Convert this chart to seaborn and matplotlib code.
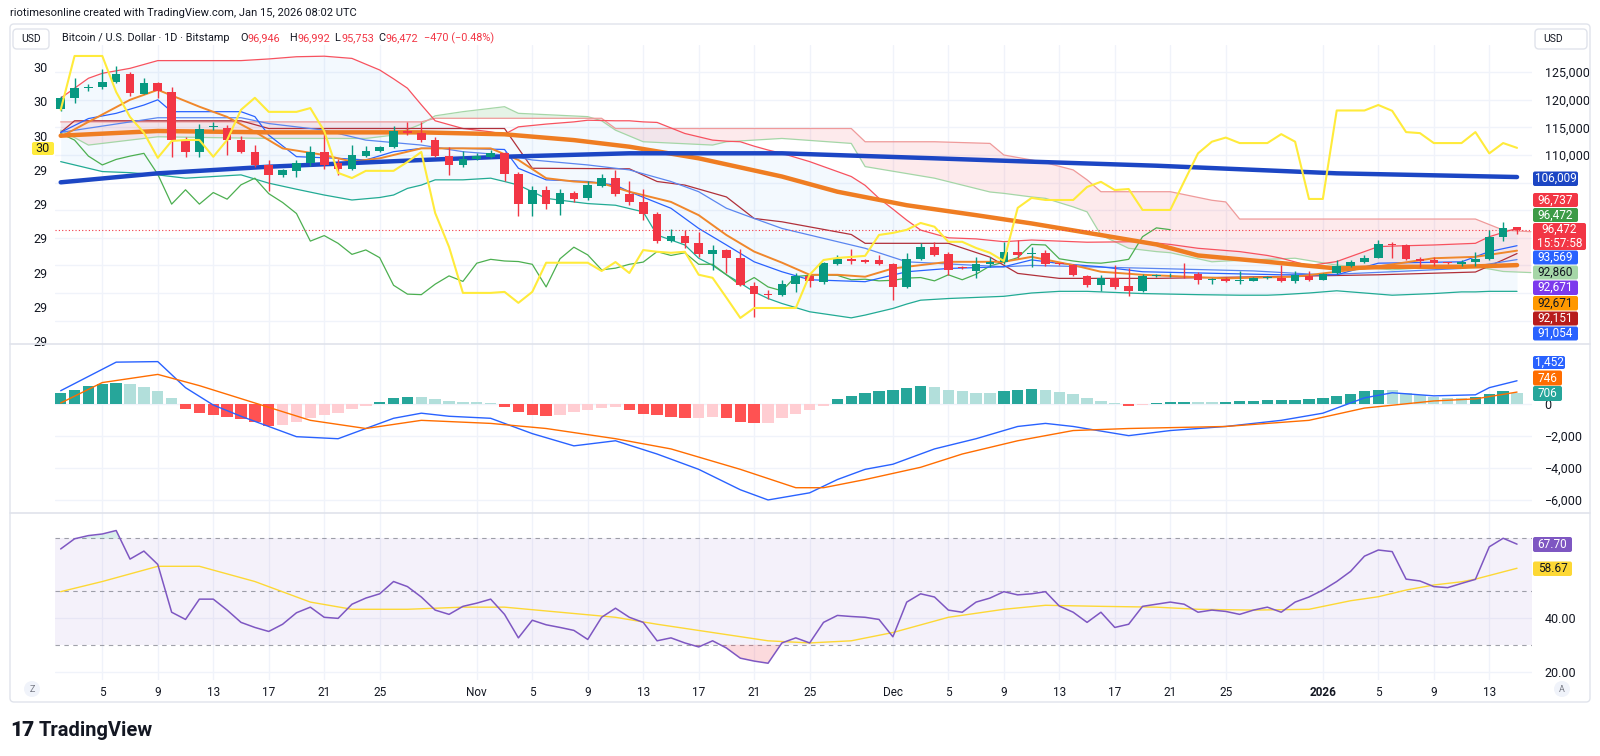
import numpy as np
import pandas as pd
import matplotlib
matplotlib.use("Agg")
import matplotlib.pyplot as plt
from matplotlib.patches import FancyBboxPatch, Circle
from matplotlib.lines import Line2D
from matplotlib.transforms import Affine2D
from matplotlib.ticker import FuncFormatter
import seaborn as sns

# ---------------- data ----------------
dates = pd.date_range("2025-10-02", "2026-01-15", freq="D")  # daily bars

open_ = [118400, 120400, 122200, 122300, 123300, 124600, 121100, 123100, 121500, 112700,
         110600, 115000, 114900, 112800, 110600, 108100, 106300, 107100, 108500, 110500,
         108500, 107400, 109900, 110700, 111400, 114300, 113900, 112700, 109800, 108200,
         109300, 109700, 110300, 106500, 101100, 103700, 101100, 103200, 102200, 104400,
         105800, 102900, 101400, 99400, 94400, 95400, 94000, 92000, 92800, 91400,
         86300, 84800, 84600, 86600, 88100, 87000, 90300, 91100, 90900, 90900,
         90200, 86100, 91200, 93300, 92000, 89700, 88900, 90200, 90600, 92500,
         92000, 92300, 90300, 90100, 88100, 86400, 87800, 86300, 85400, 88000,
         88200, 88300, 88400, 87400, 87500, 87200, 87200, 87700, 87700, 87200,
         88100, 87400, 88600, 89900, 90600, 91400, 93800, 93700, 91200, 90900,
         90450, 90200, 90700, 91100, 95200, 96946]
high = [120600, 123900, 122800, 125600, 126100, 125000, 124000, 123300, 122400, 113300,
        115600, 115900, 115400, 113400, 111800, 109100, 107500, 109100, 111600, 114000,
        109300, 111800, 111600, 111700, 115300, 116000, 115900, 113200, 111500, 110700,
        110300, 110900, 110500, 107000, 104300, 104400, 103900, 103500, 105200, 106500,
        107300, 105200, 103900, 99600, 96600, 96500, 96000, 93700, 93000, 93000,
        87000, 85500, 87400, 88600, 88500, 90700, 91900, 93000, 91200, 91800,
        90400, 92200, 94000, 94200, 92400, 89900, 91600, 91600, 94300, 94600,
        93400, 92700, 90500, 90300, 88300, 88300, 90100, 89500, 88500, 88500,
        88600, 90400, 88800, 87800, 87900, 88900, 87900, 88000, 90100, 89000,
        89000, 88600, 90900, 90900, 91800, 94600, 94200, 93900, 91500, 91600,
        90600, 91000, 92400, 96400, 97900, 96992]
low = [118000, 119400, 121600, 122000, 123000, 120600, 121000, 120300, 109700, 109700,
       109700, 114500, 110000, 110300, 107800, 103500, 106100, 106000, 108000, 107500,
       106300, 107200, 109600, 110500, 111300, 113600, 112400, 109600, 106400, 107800,
       109100, 109500, 105300, 99000, 99000, 100300, 99100, 101500, 101900, 104200,
       102600, 100900, 98200, 94000, 94200, 93100, 91500, 89200, 88600, 86200,
       80700, 84000, 84400, 85200, 86000, 86700, 90000, 90200, 90500, 90000,
       83700, 85900, 91000, 91700, 88300, 89300, 87700, 89800, 90300, 91400,
       89800, 89900, 90000, 88100, 86100, 85300, 85800, 84500, 85200, 87900,
       87900, 87700, 86600, 86600, 87000, 86600, 87100, 87500, 87000, 86900,
       87200, 87300, 88400, 89700, 90500, 91300, 91300, 91000, 89700, 89900,
       90300, 89900, 89900, 90900, 94500, 95753]
close = [120300, 122100, 122400, 123300, 124600, 121200, 123100, 121600, 112700, 110600,
         114800, 115200, 112800, 110600, 108100, 106300, 107200, 108500, 110500, 108200,
         107500, 110000, 110800, 111400, 114300, 113900, 112700, 109800, 108200, 109200,
         109800, 110300, 106500, 101100, 103700, 101100, 103200, 102000, 104600, 105800,
         103000, 101400, 99400, 94400, 95400, 94000, 92000, 92800, 91400, 86400,
         84800, 84700, 86600, 88100, 87100, 90400, 91100, 90800, 90700, 90200,
         86100, 91200, 93300, 91900, 89200, 89500, 90200, 90600, 92500, 91800,
         92300, 90200, 90200, 88300, 86400, 87800, 86100, 85400, 88000, 88200,
         88300, 88200, 87400, 87500, 87200, 87300, 87700, 87800, 87200, 88300,
         87400, 88400, 89900, 90600, 91400, 93800, 93700, 91200, 90800, 90500,
         90400, 90700, 91100, 95200, 96800, 96472]

# Bollinger bands (upper / lower)
bb_idx = [0, 2, 3, 5, 7, 9, 13, 15, 17, 19, 21, 23, 24, 25, 26, 27, 29, 31, 32, 33,
          35, 37, 38, 40, 41, 42, 43, 45, 46, 47, 48, 49, 50, 51, 52, 54, 57, 58, 59, 60,
          61, 62, 64, 66, 68, 70, 72, 74, 78, 80, 82, 85, 87, 88, 90, 92, 95, 96, 99, 101,
          102, 103, 105]
bb_upper = [120300, 123900, 124800, 125700, 127100, 127100, 127100, 127400, 127800, 127900,
            127500, 125400, 123800, 122100, 119100, 116200, 114800, 114200, 113750, 115100,
            115600, 116000, 116300, 116200, 116200, 116000, 115900, 113900, 113300, 112700,
            112500, 112400, 111600, 110900, 110300, 108800, 106100, 104500, 102150, 100200,
            98200, 96400, 95000, 94800, 94300, 94600, 94400, 94200, 94300, 93800,
            93100, 92500, 91800, 91300, 89950, 90700, 93400, 93500, 93700, 93900,
            94000, 95200, 96737]
bb_lower = [108800, 107600, 107000, 106800, 106400, 105800, 106400, 104900, 103800, 102750,
            101850, 102300, 102750, 103950, 104550, 105500, 105500, 105800, 105200, 104550,
            102150, 101500, 101200, 100900, 100300, 99700, 95500, 93700, 91300, 90000,
            88300, 86800, 85200, 84000, 83100, 81600, 80500, 81000, 81600, 82200,
            83000, 83700, 84000, 84200, 84400, 85000, 85300, 85300, 84900, 84800,
            84700, 84600, 84600, 84700, 85000, 85400, 84800, 84600, 84900, 85200,
            85200, 85300, 85300]

# Ichimoku cloud (leading spans A / B)
cloud_idx = [0, 2, 7, 15, 22, 24, 26, 27, 29, 32, 33, 38, 39, 40, 42, 47, 48, 52, 57, 58,
             63, 67, 68, 70, 71, 73, 74, 75, 77, 79, 80, 83, 84, 85, 89, 92, 96, 101, 102, 104,
             106]
span_a = [114500, 111800, 113300, 113000, 113000, 113600, 115600, 117100, 117850, 118750,
          117550, 116950, 116200, 114500, 112400, 111800, 112400, 113000, 112100, 107900,
          105800, 103300, 103050, 102400, 102150, 100600, 99700, 95500, 93100, 92500,
          92300, 90650, 90800, 90900, 91300, 90050, 89200, 90050, 89800, 88900,
          88700]
span_b = [116000, 116000, 116000, 116000, 116000, 116000, 116000, 116650, 116650, 116650,
          116650, 116650, 116650, 114800, 114800, 114800, 114800, 114800, 114800, 112400,
          112400, 112100, 110000, 109100, 108600, 107300, 105500, 103350, 103350, 103350,
          103350, 101800, 101500, 98400, 98400, 98400, 98400, 98400, 98400, 96400,
          96100]

# conversion line (blue), second blue line, base line (maroon)
conv_idx = [0, 2, 4, 6, 7, 8, 13, 14, 15, 17, 20, 22, 24, 26, 29, 32, 33, 35, 38, 40,
            41, 44, 46, 48, 50, 52, 54, 58, 61, 64, 68, 70, 72, 75, 78, 88, 92, 95, 101, 103,
            105]
conv_val = [114100, 116600, 117550, 119050, 120000, 117850, 117850, 116950, 113600, 109700,
            109400, 109100, 110600, 111200, 111200, 111000, 107600, 105500, 105200, 104550,
            103350, 100350, 96700, 93700, 90650, 88850, 87400, 87050, 88850, 89450,
            89750, 91000, 90350, 89750, 88850, 88300, 88300, 90400, 90650, 92500,
            93569]
blue2_idx = [0, 7, 13, 15, 19, 22, 26, 29, 32, 34, 38, 41, 44, 46, 48, 50, 52, 58, 61, 68,
             70, 78, 86, 91, 96, 101, 105]
blue2_val = [114100, 116750, 116750, 115700, 114500, 112700, 111800, 110600, 110000, 109100,
             108200, 107300, 105200, 103350, 100350, 98500, 96700, 93100, 90650, 89750,
             90000, 89500, 89000, 88300, 88850, 89450, 91054]
base_idx = [0, 1, 13, 15, 32, 34, 41, 43, 45, 48, 50, 52, 57, 58, 64, 67, 69, 72, 79, 88,
            95, 102, 104, 105]
base_val = [114100, 116200, 116200, 114800, 114800, 107600, 107500, 105200, 104550, 102400,
            98500, 97900, 95600, 94000, 94000, 91500, 88550, 87650, 87650, 88000,
            88300, 88800, 91000, 92151]

# moving averages
ma200_idx = [0, 7, 15, 26, 32, 41, 52, 63, 70, 79, 92, 105]
ma200_val = [105050, 106680, 107880, 109090, 109690, 110310, 110310, 109400, 108790, 108060,
             106680, 106009]
ma50_idx = [0, 7, 15, 26, 32, 37, 41, 46, 52, 56, 61, 66, 70, 75, 79, 82, 87, 92, 96, 101, 105]
ma50_val = [113500, 114350, 114100, 114100, 113750, 112700, 111500, 109400, 106100, 103350,
            100900, 99100, 97600, 95500, 93800, 91800, 90650, 89450, 89750, 89750, 90050]
ema_idx = [0, 2, 5, 7, 10, 12, 14, 16, 19, 21, 23, 26, 29, 31, 33, 35, 37, 39, 41, 44,
           46, 48, 50, 52, 54, 56, 58, 60, 64, 68, 70, 73, 75, 78, 84, 89, 94, 99, 102, 105]
ema_val = [113300, 116000, 120000, 121800, 118750, 116900, 114200, 111200, 110000, 108800,
           109400, 111200, 111200, 111200, 109100, 105800, 105200, 104900, 103350, 101500,
           99100, 95500, 92500, 90500, 88300, 88300, 87950, 89450, 90650, 90650,
           91550, 90050, 88850, 88300, 87650, 87950, 89450, 91300, 91550, 92671]

# yellow overlay on the left scale
yellow = [30.075, 30.232, 30.232, 30.232, 30.127, 30.054, 30.008, 29.935, 29.984, 29.987,
          29.987, 29.938, 29.987, 30.075, 30.110, 30.069, 30.069, 30.069, 30.080, 30.013,
          29.891, 29.876, 29.897, 29.897, 29.897, 29.923, 29.952, 29.774, 29.675, 29.541,
          29.541, 29.541, 29.544, 29.512, 29.544, 29.629, 29.629, 29.629, 29.629, 29.605,
          29.631, 29.599, 29.666, 29.661, 29.658, 29.661, 29.594, 29.585, 29.527, 29.468,
          29.497, 29.497, 29.497, 29.497, 29.594, 29.637, 29.643, 29.646, 29.649, 29.710,
          29.716, 29.725, 29.745, 29.734, 29.690, 29.690, 29.672, 29.658, 29.634, 29.789,
          29.818, 29.812, 29.812, 29.812, 29.850, 29.865, 29.841, 29.844, 29.783, 29.783,
          29.783, 29.866, 29.948, 29.982, 29.994, 29.978, 29.978, 29.978, 30.004, 29.982,
          29.815, 29.815, 30.073, 30.073, 30.073, 30.089, 30.072, 30.010, 30.007, 29.978,
          29.978, 29.978, 30.010, 29.948, 29.978, 29.964]
left_ticks = [30.2, 30.1, 30.0, 29.9, 29.8, 29.7, 29.6, 29.5, 29.4]
left_labels = ["30", "30", "30", "29", "29", "29", "29", "29", "29"]

# MACD
macd_idx = [0, 4, 7, 9, 11, 13, 15, 17, 20, 22, 24, 26, 28, 31, 32, 34, 37, 40, 43, 46,
            49, 51, 54, 56, 58, 60, 63, 66, 69, 71, 73, 77, 80, 84, 88, 91, 94, 96, 99, 102,
            103, 105]
macd_val = [830, 2616, 2650, 1020, -64, -766, -1404, -2042, -2170, -1531,
            -893, -574, -766, -893, -1212, -1850, -2616, -2297, -3126, -4083,
            -5359, -5997, -5551, -4721, -4083, -3764, -2807, -2169, -1404, -1212,
            -1404, -1978, -1659, -1404, -1021, -574, 383, 702, 510, 574,
            1021, 1452]
sig_idx = [0, 3, 7, 10, 14, 18, 22, 26, 31, 35, 40, 44, 49, 53, 55, 58, 62, 65, 69, 73,
           77, 84, 90, 94, 99, 102, 105]
sig_val = [64, 1340, 1850, 1148, 64, -1021, -1531, -1021, -1212, -1531,
           -2169, -2807, -4083, -5232, -5232, -4721, -3956, -3126, -2297, -1659,
           -1531, -1404, -1021, -255, 191, 319, 746]
hist = [700, 900, 1100, 1250, 1300, 1250, 1050, 800, 400, -300,
        -550, -700, -800, -950, -1150, -1400, -1300, -1100, -900, -700,
        -550, -300, -150, 150, 350, 450, 450, 300, 200, 150,
        100, 50, -200, -500, -700, -750, -700, -500, -350, -250,
        -200, -400, -600, -700, -800, -900, -900, -800, -850, -1100,
        -1200, -1200, -900, -600, -400, -150, 300, 500, 700, 800,
        900, 1000, 1100, 1050, 900, 800, 700, 700, 800, 900,
        950, 850, 750, 600, 400, 200, 50, -100, -80, 50,
        100, 150, 150, 120, 150, 170, 200, 230, 260, 280,
        300, 350, 500, 650, 800, 900, 850, 700, 550, 450,
        400, 350, 450, 650, 800, 706]

# RSI and its moving average
rsi = [65.9, 69.7, 70.9, 71.5, 72.8, 62.1, 65.1, 60.1, 42.2, 39.5,
       47.1, 47.1, 43.0, 38.4, 36.5, 35.0, 37.7, 42.0, 44.1, 40.3,
       39.9, 45.2, 47.5, 49.1, 53.7, 51.8, 47.9, 43.0, 41.4, 44.4,
       45.6, 47.1, 41.4, 32.6, 39.2, 37.5, 36.5, 35.4, 32.0, 40.3,
       43.7, 40.3, 38.4, 31.5, 32.6, 30.7, 29.2, 31.5, 28.8, 25.0,
       23.9, 23.1, 30.7, 32.6, 30.7, 38.4, 41.0, 40.6, 40.3, 39.5,
       33.0, 46.0, 49.1, 47.9, 43.0, 42.2, 46.0, 47.5, 49.9, 48.7,
       49.1, 49.9, 44.5, 42.2, 38.4, 42.2, 36.5, 37.7, 44.4, 45.2,
       46.0, 45.2, 42.2, 43.0, 42.5, 41.4, 43.0, 44.1, 42.2, 46.0,
       47.9, 50.5, 53.7, 57.5, 63.2, 65.5, 64.9, 54.6, 53.9, 51.8,
       51.4, 53.0, 54.5, 66.7, 69.9, 67.7]
rsima_idx = [0, 3, 7, 10, 14, 18, 21, 25, 29, 32, 36, 40, 43, 47, 51, 54, 57, 60, 64, 68,
             71, 75, 79, 82, 86, 90, 93, 95, 97, 99, 101, 102, 105]
rsima_val = [49.9, 53.7, 59.4, 59.4, 53.7, 46.0, 43.3, 43.3, 44.1, 44.1,
             42.2, 40.3, 37.7, 34.6, 31.5, 30.7, 31.5, 34.6, 40.3, 43.3,
             44.8, 44.4, 44.1, 43.3, 43.0, 43.3, 46.5, 48.0, 50.5, 52.4,
             53.6, 54.6, 58.67]

# time axis
tick_idx = [3, 7, 11, 15, 19, 23, 30, 34, 38, 42, 46, 50, 54, 60, 64, 68, 72, 76, 80, 84,
            91, 95, 99, 103]
tick_labels = ["5", "9", "13", "17", "21", "25", "Nov", "5", "9", "13", "17", "21", "25",
               "Dec", "5", "9", "13", "17", "21", "25", "2026", "5", "9", "13"]

# ---------------- styling ----------------
sns.set_theme(style="white")
plt.rcParams["font.family"] = ["Roboto", "DejaVu Sans"]

UP, DOWN = "#089981", "#f23645"
TXT = "#131722"
GRID = "#f0f3fa"
BORDER = "#e0e3eb"

W, H = 1600, 756
fig = plt.figure(figsize=(W / 100, H / 100), dpi=100)
fig.patch.set_facecolor("white")
PX = Affine2D().scale(1 / W, -1 / H).translate(0, 1) + fig.transFigure

L_EDGE, R_EDGE = 55, 1532
X0, X1 = -0.41, 106.08
x = np.arange(len(close))


def pane(top, bottom):
    a = fig.add_axes([L_EDGE / W, 1 - bottom / H, (R_EDGE - L_EDGE) / W, (bottom - top) / H])
    a.set_xlim(X0, X1)
    for s in a.spines.values():
        s.set_visible(False)
    a.set_xticks(tick_idx)
    a.grid(True, color=GRID, linewidth=1)
    a.set_axisbelow(True)
    a.tick_params(length=0, labelsize=9, labelcolor=TXT)
    a.yaxis.tick_right()
    return a


def line(a, xs, ys, color, width, z=3):
    sns.lineplot(x=xs, y=ys, ax=a, color=color, linewidth=width, zorder=z,
                 legend=False, sort=False)
    a.set_xlabel("")
    a.set_ylabel("")


# ---------------- price pane ----------------
ax = pane(45, 344)
ax.set_ylim(75761, 129928)

ax.fill_between(bb_idx, bb_upper, bb_lower, color="#2196f3", alpha=0.05, linewidth=0, zorder=1)
sa, sb = np.array(span_a), np.array(span_b)
ax.fill_between(cloud_idx, sa, sb, where=sa >= sb, interpolate=True,
                color="#4caf50", alpha=0.14, linewidth=0, zorder=1)
ax.fill_between(cloud_idx, sa, sb, where=sa < sb, interpolate=True,
                color="#f23645", alpha=0.10, linewidth=0, zorder=1)
line(ax, cloud_idx, span_a, "#a5d6a7", 0.9, 2)
line(ax, cloud_idx, span_b, "#ef9a9a", 0.9, 2)
line(ax, bb_idx, bb_upper, "#f7525f", 0.9, 2)
line(ax, bb_idx, bb_lower, "#22ab94", 0.9, 2)
line(ax, x[:-25], close[25:], "#4caf50", 0.9, 2)  # lagging span
line(ax, base_idx, base_val, "#b0303a", 0.9, 3)
line(ax, blue2_idx, blue2_val, "#5b86f0", 0.9, 3)
line(ax, conv_idx, conv_val, "#2962ff", 0.9, 3)
line(ax, ema_idx, ema_val, "#f0872b", 1.4, 3)
line(ax, ma50_idx, ma50_val, "#ef7d22", 3.2, 4)
line(ax, ma200_idx, ma200_val, "#1c46c4", 3.2, 4)

o, c, h, l = map(np.array, (open_, close, high, low))
cols = np.where(c >= o, UP, DOWN)
ax.vlines(x, l, h, colors=cols, linewidth=1, zorder=5)
ax.bar(x, np.maximum(np.abs(c - o), 150), bottom=np.minimum(o, c), width=0.62,
       color=cols, linewidth=0, zorder=6)
ax.axhline(close[-1], color=DOWN, linewidth=0.8, linestyle=(0, (1, 2)), zorder=4)

axl = ax.twinx()
axl.set_xlim(X0, X1)
axl.set_ylim(29.392, 30.264)
for s in axl.spines.values():
    s.set_visible(False)
axl.grid(False)
line(axl, x, yellow, "#ffeb3b", 1.5, 4)
axl.yaxis.tick_left()
axl.yaxis.set_label_position("left")
axl.set_yticks(left_ticks)
axl.set_yticklabels(left_labels)
axl.tick_params(length=0, labelsize=9, labelcolor=TXT, pad=5)

# twinx moved the price scale to the left: put it back on the right
ax.yaxis.tick_right()
ax.yaxis.set_label_position("right")
ax.set_yticks(range(80000, 130000, 5000))
ax.yaxis.set_major_formatter(FuncFormatter(lambda v, p: f"{v:,.0f}" if v >= 110000 else ""))
ax.tick_params(axis="y", length=0, pad=9, labelsize=9, labelcolor=TXT)
ax.set_xticklabels([])

# ---------------- MACD pane ----------------
am = pane(344, 513)
am.set_ylim(-6812, 3750)
hv = np.array(hist)
prev = np.concatenate([[0], hv[:-1]])
hcol = np.where(hv >= 0, np.where(hv > prev, "#26a69a", "#b2dfdb"),
                np.where(hv < prev, "#ff5252", "#ffcdd2"))
am.bar(x, hv, width=0.82, color=hcol, linewidth=0, zorder=2)
line(am, macd_idx, macd_val, "#2962ff", 1.0, 3)
line(am, sig_idx, sig_val, "#ff6d00", 1.0, 3)
am.set_yticks([0, -2000, -4000, -6000])
am.yaxis.set_major_formatter(FuncFormatter(lambda v, p: f"{v:,.0f}".replace("-", "\u2212")))
am.tick_params(axis="y", pad=9)
am.set_xticklabels([])

# ---------------- RSI pane ----------------
ar = pane(513, 680)
ar.set_ylim(16.82, 79.36)
ar.axhspan(30, 70, color="#7e57c2", alpha=0.08, linewidth=0, zorder=1)
for lv in (70, 50, 30):
    ar.axhline(lv, color="#787b86", linewidth=0.8, linestyle=(0, (4, 4)), alpha=0.7, zorder=2)
rv = np.array(rsi)
ar.fill_between(x, rv, 30, where=rv < 30, interpolate=True, color="#f23645", alpha=0.18,
                linewidth=0, zorder=2)
ar.fill_between(x, rv, 70, where=rv > 70, interpolate=True, color="#089981", alpha=0.15,
                linewidth=0, zorder=2)
line(ar, rsima_idx, rsima_val, "#fdd835", 1.0, 3)
line(ar, x, rsi, "#7e57c2", 1.1, 4)
ar.set_yticks([20, 40])
ar.yaxis.set_major_formatter(FuncFormatter(lambda v, p: f"{v:.2f}"))
ar.tick_params(axis="y", pad=9)
ar.set_xticks(tick_idx)
ar.set_xticklabels(tick_labels)
ar.tick_params(axis="x", pad=4, labelsize=8.5)
for t in ar.get_xticklabels():
    if t.get_text() == "2026":
        t.set_fontweight("bold")

# ---------------- frame, separators, scale tags ----------------
fig.add_artist(FancyBboxPatch((10, 24), 1580, 678, boxstyle="round,pad=0,rounding_size=4",
                              transform=PX, fc="none", ec=BORDER, lw=1, zorder=6))
for yy in (344, 513):
    fig.add_artist(Line2D([10, 1590], [yy, yy], transform=PX, color=BORDER, lw=1.2, zorder=6))


def tag(text, top, bot, fc, tc, x0=1533, x1=1578, fs=8.5):
    fig.add_artist(FancyBboxPatch((x0, top), x1 - x0, bot - top,
                                  boxstyle="round,pad=0,rounding_size=2",
                                  transform=PX, fc=fc, ec="none", zorder=7))
    fig.text((x0 + x1) / 2, (top + bot) / 2, text, transform=PX, ha="center", va="center",
             fontsize=fs, color=tc, zorder=8, linespacing=1.05)


tag("106,009", 171.5, 186, "#1c46c4", "white")
tag("96,737", 193, 207, "#f23645", "white")
tag("96,472", 208, 222, "#3d9b47", "white")
tag("96,472\n15:57:58", 223, 250, "#f23645", "white", x1=1586)
tag("93,569", 250.5, 264.5, "#2962ff", "white")
tag("92,860", 265.5, 279.5, "#a5d6a7", TXT)
tag("92,671", 280.5, 295, "#7c3aed", "white")
tag("92,671", 296, 310.5, "#ff9800", TXT)
tag("92,151", 311.5, 325.5, "#b71c1c", "white")
tag("91,054", 326.5, 340.5, "#2962ff", "white")
tag("1,452", 356, 369, "#2962ff", "white", x1=1565)
tag("746", 370.5, 385.5, "#ff6d00", "white", x1=1562)
tag("706", 386, 401, "#26a69a", "white", x1=1562)
tag("67.70", 537, 552, "#7e57c2", "white", x1=1572)
tag("58.67", 561.5, 576, "#fdd835", TXT, x1=1572)

# yellow left-scale tag
fig.add_artist(FancyBboxPatch((32, 142), 22, 13, boxstyle="round,pad=0,rounding_size=2",
                              transform=PX, fc="#ffeb3b", ec="none", zorder=7))
fig.text(43, 148.5, "30", transform=PX, ha="center", va="center", fontsize=9, color=TXT, zorder=8)

# ---------------- header & footer ----------------
fig.text(10, 13, "riotimesonline created with TradingView.com, Jan 15, 2026 08:02 UTC",
         transform=PX, ha="left", va="center", fontsize=8, color=TXT)
for (bx, bw) in ((13, 36), (1535, 52)):
    fig.add_artist(FancyBboxPatch((bx, 29), bw, 20, boxstyle="round,pad=0,rounding_size=4",
                                  transform=PX, fc="white", ec=BORDER, lw=1, zorder=7))
fig.text(31, 39, "USD", transform=PX, ha="center", va="center", fontsize=7.5, color=TXT, zorder=8)
fig.text(1543, 39, "USD", transform=PX, ha="left", va="center", fontsize=7.5, color=TXT, zorder=8)
fig.text(62, 38, "Bitcoin / U.S. Dollar \u00b7 1D \u00b7 Bitstamp", transform=PX, ha="left",
         va="center", fontsize=7.8, color=TXT)
for xx, lab, val in ((240, "O", "96,946"), (289, "H", "96,992"), (334, "L", "95,753"),
                     (378, "C", "96,472")):
    fig.text(xx, 38, lab, transform=PX, ha="left", va="center", fontsize=7.8, color=TXT)
    fig.text(xx + 8, 38, val, transform=PX, ha="left", va="center", fontsize=7.8, color=DOWN)
fig.text(424, 38, "\u2212470 (\u22120.48%)", transform=PX, ha="left", va="center",
         fontsize=7.8, color=DOWN)

for cx, lab in ((32, "Z"), (1562, "A")):
    fig.add_artist(Circle((cx, 689), 8, transform=PX, fc="#f0f3fa", ec="none", zorder=7))
    fig.text(cx, 689, lab, transform=PX, ha="center", va="center", fontsize=6.5,
             color="#787b86", zorder=8)

fig.text(10, 730, "17", transform=PX, ha="left", va="center", fontsize=15,
         fontweight="heavy", color=TXT)
fig.text(39, 730, "TradingView", transform=PX, ha="left", va="center", fontsize=14.5,
         fontweight="bold", color=TXT)

fig.savefig("out.png", dpi=100, facecolor="white")
